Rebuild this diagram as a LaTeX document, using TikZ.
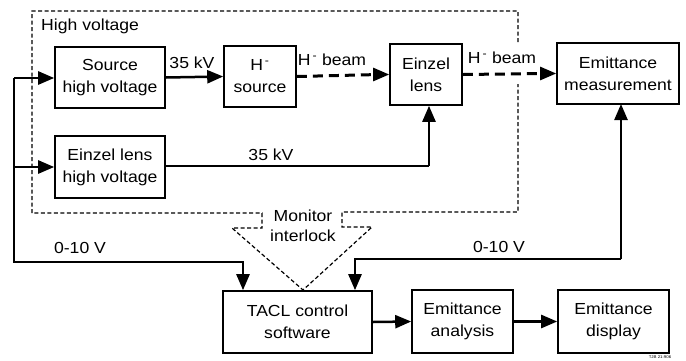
\documentclass[tikz,border=0pt]{standalone}
\usepackage{fontspec}
\setmainfont[FakeStretch=1.1]{Liberation Sans}
\usetikzlibrary{arrows.meta,calc}
\begin{document}
\begin{tikzpicture}[x=1pt,y=-1pt,
  every node/.style={font=\fontsize{16}{22}\selectfont},
  blk/.style={draw,line width=1.6pt,inner sep=0pt,align=center},
  wire/.style={line width=2.5pt},
  tip/.style={-{Triangle[length=16pt,width=13pt]}},
  beam/.style={line width=3pt,dash pattern=on 10pt off 6pt},
  fence/.style={line width=1.2pt,dash pattern=on 4pt off 2.5pt},
  lbl/.style={inner sep=1pt}]
\useasboundingbox (0,0) rectangle (686,360);

% blocks
\node[blk,minimum width=110pt,minimum height=61pt] (src)   at (110,77.5) {Source\\high voltage};
\node[blk,minimum width=72pt,minimum height=61pt]  (hsrc)  at (260,76.5) {H\textsuperscript{\,-}\\source};
\node[blk,minimum width=72pt,minimum height=61pt]  (ein)   at (426,74.5) {Einzel\\lens};
\node[blk,minimum width=122pt,minimum height=61pt] (emeas) at (618,73.5) {Emittance\\measurement};
\node[blk,minimum width=110pt,minimum height=62pt] (ehv)   at (110,167) {Einzel lens\\high voltage};
\node[blk,minimum width=149pt,minimum height=62pt] (tacl)  at (297.5,322) {TACL control\\software};
\node[blk,minimum width=101pt,minimum height=63pt] (anal)  at (462.5,321.5) {Emittance\\analysis};
\node[blk,minimum width=111pt,minimum height=63pt] (disp)  at (613.5,321.5) {Emittance\\display};

% high-voltage enclosure with the monitor/interlock funnel
\coordinate (apex) at (303,290);
\draw[fence] (518,42) -- (518,11) -- (32,11) -- (32,213) -- (262,213) -- (262,228)
  -- (232,228) -- (apex) -- (372,227) -- (342,227) -- (342,212) -- (518,212) -- (518,84);
\node[lbl,anchor=west] (hvl) at (40,26) {High voltage};
\node[lbl,align=center,font=\fontsize{16}{20}\selectfont] (mon) at (303,226) {Monitor\\interlock};

% beam line
\draw[wire,tip] (src.east) -- (hsrc.west);
\node[lbl] (kv1) at (192,63) {35 kV};
\draw[beam] (hsrc.east) -- ($(ein.west)+(-10,0)$);
\draw[wire,tip] ($(ein.west)+(-12,0)$) -- (ein.west);
\draw[beam] (ein.east) -- ($(emeas.west)+(-10,0)$);
\draw[wire,tip] ($(emeas.west)+(-12,0)$) -- (emeas.west);
\node[lbl] (b1) at (332,60) {H\textsuperscript{\,-} beam};
\node[lbl] (b2) at (502,58) {H\textsuperscript{\,-} beam};

% lens supply
\coordinate (lk) at (429,166);
\draw[wire,line width=1.8pt] (ehv.east |- lk) -- (lk);
\draw[wire,tip] (lk) -- (lk |- ein.south);
\node[lbl] (kv2) at (271,155) {35 kV};

% left control loop
\coordinate (lt) at (14,78);
\coordinate (k1) at (243,262);
\draw[wire,tip] (lt) -- (k1 -| lt) -- (k1) -- (k1 |- tacl.north);
\draw[wire,tip] (lt) -- (lt -| src.west);
\draw[wire,tip] (lt |- ehv.west) -- (ehv.west);
\node[lbl] (v1) at (80,248) {0-10 V};

% right control loop
\coordinate (em) at (621,104);
\coordinate (k2) at (355,259);
\draw[wire,tip] (em |- k2) -- (em);
\draw[wire,tip] (em |- k2) -- (k2) -- (k2 |- tacl.north);
\node[lbl] (v2) at (499,247) {0-10 V};

% analysis chain
\draw[wire,tip] (tacl.east) -- (anal.west);
\draw[wire,tip] (anal.east) -- (disp.west);

\node[lbl,font=\fontsize{4}{5}\selectfont] (tag) at (660,357) {TJB 21:906};
\end{tikzpicture}
\end{document}
